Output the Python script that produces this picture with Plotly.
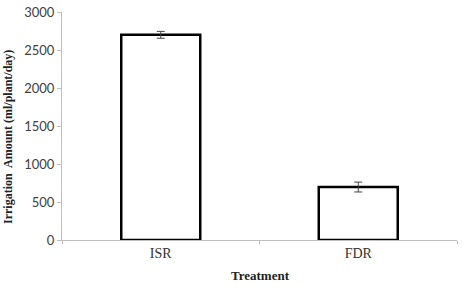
import plotly.graph_objects as go

categories = ["ISR", "FDR"]
values = [2700, 697]
errors = [45, 65]
y_ticks = [0, 500, 1000, 1500, 2000, 2500, 3000]

fig = go.Figure()
fig.add_trace(go.Bar(
    x=categories, y=values, width=0.4,
    marker=dict(color="white", line=dict(color="black", width=2.5)),
    error_y=dict(type="data", array=errors, color="#444444", thickness=1, width=4),
))

plot_w = 468 - 62 - 11
plot_h = 285 - 12 - 45

fig.update_layout(
    width=468, height=285,
    margin=dict(l=62, r=11, t=12, b=45, autoexpand=False),
    paper_bgcolor="white", plot_bgcolor="white",
    showlegend=False,
    xaxis=dict(
        range=[-0.5, 1.5], showline=True, linecolor="#bfbfbf", linewidth=1,
        ticks="outside", tickson="boundaries", ticklen=3, tickcolor="#bfbfbf",
        tickfont=dict(family="Liberation Serif", size=14, color="#333333"),
        showgrid=False, zeroline=False, automargin=False,
    ),
    yaxis=dict(
        range=[0, 3000], tickvals=y_ticks, showline=True, linecolor="#bfbfbf", linewidth=1,
        ticks="outside", ticklen=4, tickcolor="#bfbfbf",
        tickfont=dict(family="Lato", size=13, color="#404040"),
        showgrid=False, zeroline=False, automargin=False,
    ),
    annotations=[
        dict(text="<b>Treatment</b>", x=(260 - 62) / plot_w, xref="paper",
             y=(240 - 275) / plot_h, yref="paper",
             font=dict(family="Liberation Serif", size=13, color="#222222"),
             showarrow=False, xanchor="center", yanchor="middle"),
        dict(text="<b>Irrigation  Amount (ml/plant/day)</b>", textangle=-90,
             x=(8 - 62) / plot_w, y=(240 - 137) / plot_h, xref="paper", yref="paper",
             font=dict(family="Liberation Serif", size=12, color="#222222"),
             showarrow=False, xanchor="center", yanchor="middle"),
    ],
)

fig.write_html("out.html")
